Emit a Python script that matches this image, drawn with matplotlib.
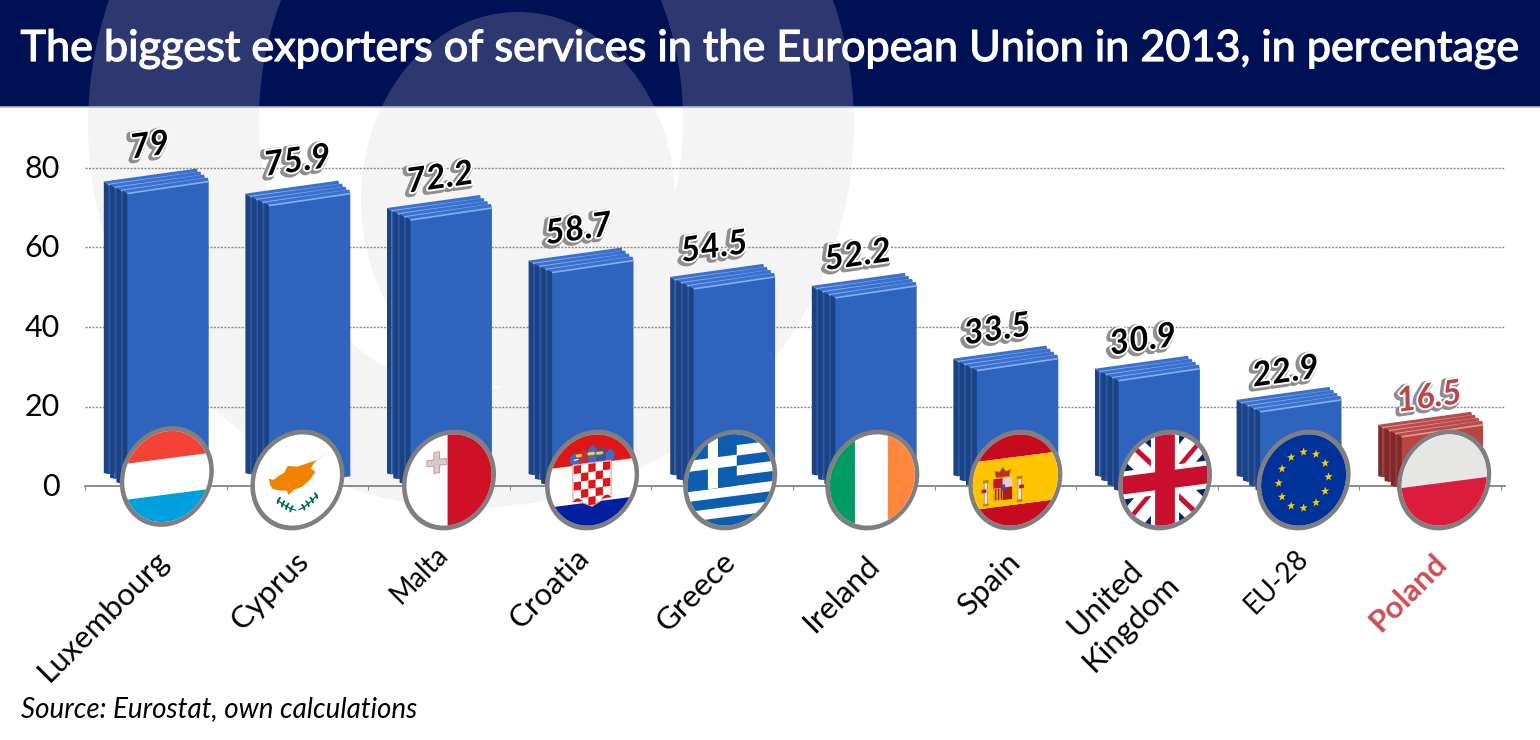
import numpy as np
import matplotlib
matplotlib.use("Agg")
import matplotlib.pyplot as plt
import matplotlib.patheffects as pe
from matplotlib.patches import Circle, Ellipse, Rectangle
from matplotlib.transforms import Affine2D

# ---------------- data ----------------
categories = ["Luxembourg", "Cyprus", "Malta", "Croatia", "Greece", "Ireland",
              "Spain", "United\nKingdom", "EU-28", "Poland"]
values = [79, 75.9, 72.2, 58.7, 54.5, 52.2, 33.5, 30.9, 22.9, 16.5]
value_labels = ["79", "75.9", "72.2", "58.7", "54.5", "52.2", "33.5", "30.9", "22.9", "16.5"]
y_ticks = [0, 20, 40, 60, 80]
flag_names = ["lu", "cy", "mt", "hr", "gr", "ie", "es", "uk", "eu", "pl"]
title = "The biggest exporters of services in the European Union in 2013, in percentage"
source = "Source: Eurostat, own calculations"

# ---------------- layout / style ----------------
W, H = 1540, 740
PX_X0, PX_X1, PX_Y0 = 85, 1505, 486
CW, SC = 141.6, 3.975          # px per category, px per value unit
YMAX = 92
NAVY, NAVY_L, PALE = "#001055", "#2E3870", "#F4F4F4"
BLUE = dict(face="#2E63BE", side="#1C4282", mid="#2A59A8", top="#3A70CE", hi="#86AEF0")
RED = dict(face="#B94444", side="#7C2A2A", mid="#A23A3A", top="#B84C4C", hi="#E59A9A")
FLAG_DX = [11, 0, 10, 11.5, 8, 8.5, 10, 18, 15, 14]
FLAG_DY = [3.5, 0, 0, 0, 0, 0, 0, 0, 0, 0]
LABEL_DX = [-6, 0, 1, -2, -8, -6, -8, -4, -3, -1]
LABEL_DY = [26, 23, 21, 23, 22, 23, 23, 23, 23, 23]
TICK_DX = [-2, -3, -4, -6, -1, 1, 1, -8, 6, 2]
TICK_DY = [0, 1, -4, -2, 1, 5, 1, -1, -1, 3]
RX, RY, SHEAR = 47.0, 50.0, 0.13

plt.rcParams["font.family"] = ["Lato", "DejaVu Sans"]
fig = plt.figure(figsize=(W / 100, H / 100), dpi=100, facecolor="white")

# ---------------- background logo and banner ----------------
bg = fig.add_axes([0, 0, 1, 1], zorder=0)
bg.set_xlim(0, W)
bg.set_ylim(H, 0)
bg.axis("off")
BANNER_H = 107


def logo(fill, hole, clip):
    a = Circle((471, 125), 383, fc=fill, ec="none")
    b = Ellipse((471, 120), 424, 540, fc=hole, ec="none")
    c = Ellipse((518, 200), 314, 376, fc=fill, ec="none")
    for p in (a, b, c):
        bg.add_patch(p)
        p.set_clip_path(clip)


low = Rectangle((0, BANNER_H), W, H - BANNER_H, fc="white", ec="none")
bg.add_patch(low)
logo(PALE, "white", low)
band = Rectangle((0, 0), W, BANNER_H, fc=NAVY, ec="none")
bg.add_patch(band)
logo(NAVY_L, NAVY, band)
bg.plot([0, W], [BANNER_H, BANNER_H], color="#AEB9D6", lw=1.2)

# regular weight thickened by a stroke: the reference's title is narrow for its height
title_text = fig.text(768 / W, 1 - 49 / H, title, color="white", fontsize=33, fontweight="normal",
                      ha="center", va="center")
measured = title_text.get_window_extent(fig.canvas.get_renderer()).width
title_text.set_fontsize(33 * 1500 / measured)
title_text.set_path_effects([pe.Stroke(linewidth=0.9, foreground="white"), pe.Normal()])
fig.text(21 / W, 1 - 709 / H, source, color="black", fontsize=20, style="italic",
         ha="left", va="center")

# ---------------- chart axes ----------------
ax = fig.add_axes([PX_X0 / W, 1 - PX_Y0 / H, (PX_X1 - PX_X0) / W, YMAX * SC / H], zorder=1)
ax.patch.set_alpha(0)
ax.set_xlim(-0.5, -0.5 + (PX_X1 - PX_X0) / CW)
ax.set_ylim(0, YMAX)
for s in ("top", "right", "left"):
    ax.spines[s].set_visible(False)
ax.spines["bottom"].set_color("#8C8C8C")
ax.spines["bottom"].set_linestyle((0, (1.5, 1)))
ax.spines["bottom"].set_linewidth(1.4)
ax.set_yticks(y_ticks)
ax.tick_params(axis="y", length=0, labelsize=22, pad=18)
for lab in ax.get_yticklabels():
    lab.set_transform(lab.get_transform() + Affine2D().translate(0, 1.5))
ax.yaxis.grid(True, color="#8C8C8C", lw=1, linestyle=(0, (1.5, 1)))
ax.set_axisbelow(True)
x = np.arange(len(categories))
ax.set_xticks(x, categories, rotation=45, ha="right", rotation_mode="anchor",
              fontsize=22.5, multialignment="center", linespacing=1.35)
ax.set_xticks(np.arange(-0.5, len(categories)), minor=True)
ax.tick_params(axis="x", which="major", length=0, pad=43)
ax.tick_params(axis="x", which="minor", length=3, color="#8C8C8C", width=0.8)
for n, (lab, name) in enumerate(zip(ax.get_xticklabels(), categories)):
    lab.set_transform(lab.get_transform() + Affine2D().translate(TICK_DX[n], -TICK_DY[n]))
    if name in ("Malta", "EU-28"):
        lab.set_fontsize(19.8)
    if name == "Poland":
        lab.set_color("#CF4F55")
        lab.set_fontweight("bold")


# ---------------- 3-D stacked slabs drawn from the values ----------------
def draw_bar(i, v, pal):
    top = 0.979 * v - 0.75
    base = 2.0 + 0.0126 * v
    for k in range(4):
        xl = -52 + 6.3 * k
        xr = xl + 93 - 2.67 * k
        ty, by = 3.0 * k, 4.7 * k
        zo = 3 + k * 0.1

        def P(dx, dy_down, ref):
            return (i + dx / CW, ref - dy_down / SC)
        side = [P(xl, ty, top), P(xl + 4.6, ty + 3, top), P(xl + 4.6, by, base), P(xl, by - 1, base)]
        face = [P(xl + 4.6, ty + 3, top), P(xr + 1, ty - 13 + 4, top), P(xr + 1, by - 12, base), P(xl + 4.6, by, base)]
        strip = [P(xl + 4.6, ty + 3, top), P(xl + 6.3, ty + 3, top), P(xl + 6.3, by, base), P(xl + 4.6, by, base)]
        tp = [P(xl, ty, top), P(xr, ty - 13, top), P(xr + 1, ty - 13 + 4, top), P(xl + 4.6, ty + 3, top)]
        for pts, col in ((face, pal["face"]), (strip, pal["mid"] if k < 3 else pal["face"]),
                         (side, pal["side"]), (tp, pal["top"])):
            ax.fill(*zip(*pts), fc=col, ec="none", zorder=zo, clip_on=False)
        ax.plot([tp[3][0], tp[2][0]], [tp[3][1], tp[2][1]], color=pal["hi"], lw=1.2,
                zorder=zo, solid_capstyle="butt", clip_on=False)


for i, v in enumerate(values):
    draw_bar(i, v, RED if categories[i] == "Poland" else BLUE)
    c = "#BE4448" if categories[i] == "Poland" else "black"
    t = ax.text(i + LABEL_DX[i] / CW, v + LABEL_DY[i] / SC, value_labels[i], ha="center", va="center",
                rotation=8, rotation_mode="anchor", fontsize=24.5, fontweight="bold", style="italic", color=c,
                zorder=6, clip_on=False)
    t.set_path_effects([
        pe.Stroke(linewidth=5.0, foreground="#8E8E8E", offset=(-1.6, -1.2)),
        pe.Stroke(linewidth=2.8, foreground="white"),
        pe.Normal()])


# ---------------- flags ----------------
def star(cx, cy, r, n=5):
    a = np.pi / 2 + np.arange(2 * n) * np.pi / n
    rr = np.where(np.arange(2 * n) % 2 == 0, r, r * 0.4)
    return list(zip(cx + rr * np.cos(a), cy + rr * np.sin(a)))


def make_flag(i, name):
    cx = i + FLAG_DX[i] / CW
    cy = (PX_Y0 - (480 - FLAG_DY[i])) / SC
    m = np.array([[RX / CW, 0, cx], [SHEAR * RX / SC, RY / SC, cy], [0, 0, 1]])
    tr = Affine2D(m) + ax.transData
    ring = Circle((0, 0), 1, fc="#7F7F7F", ec="none", transform=tr, zorder=5, clip_on=False)
    ax.add_patch(ring)
    inner = Circle((0, 0), 0.905, fc="white", ec="none", transform=tr, zorder=5.1, clip_on=False)
    ax.add_patch(inner)
    z = [5.2]

    def clip(a):
        a.set_clip_box(None)
        a.set_clip_path(inner)
        return a

    def poly(pts, color, ec="none", lw=0):
        z[0] += 0.001
        p = plt.Polygon(pts, closed=True, fc=color, ec=ec, lw=lw, transform=tr, zorder=z[0])
        ax.add_patch(p)
        return clip(p)

    def rect(u0, v0, u1, v1, color, **kw):
        return poly([(u0, v0), (u1, v0), (u1, v1), (u0, v1)], color, **kw)

    def line(us, vs, color, lw):
        z[0] += 0.001
        l, = ax.plot(us, vs, color=color, lw=lw, transform=tr, zorder=z[0], solid_capstyle="round")
        return clip(l)

    if name == "lu":
        rect(-2, .36, 2, 2, "#F44336")
        rect(-2, -2, 2, -.36, "#009FDF")
    elif name == "cy":
        zx = np.array([748, 715, 700, 680, 650, 622, 612, 595, 580, 565, 570, 578, 600, 618, 625, 640, 665, 690, 705, 692, 700])
        zy = np.array([148, 178, 183, 190, 200, 198, 218, 228, 240, 237, 258, 268, 272, 272, 285, 270, 260, 238, 215, 205, 190])
        u = (zx - 651) / 141
        vv = (240 - zy) / 150 - SHEAR * u
        poly(list(zip(u, vv)), "#F08400")
        for sgn in (-1, 1):
            us = sgn * np.array([.03, .14, .23, .32, .41])
            vs = np.array([-.60, -.56, -.50, -.44, -.36])
            line(us, vs, "#006B54", 0.9)
            for a, b in zip(us[1:], vs[1:]):
                line([a, a - sgn * .04], [b, b + .05], "#006B54", 1.4)
                line([a, a + sgn * .01], [b, b - .05], "#006B54", 1.4)
    elif name == "mt":
        rect(-.03, -2, 2, 2, "#CE1126")
        cu, cv = -.26, .38
        a, b = .21, .06
        pts = [(cu - b, cv + a), (cu + b, cv + a), (cu + b, cv + b), (cu + a, cv + b), (cu + a, cv - b),
               (cu + b, cv - b), (cu + b, cv - a), (cu - b, cv - a), (cu - b, cv - b), (cu - a, cv - b),
               (cu - a, cv + b), (cu - b, cv + b)]
        poly(pts, "#CFCFCF", ec="#E0808A", lw=0.6)
    elif name == "hr":
        rect(-2, .33, 2, 2, "#DF1616")
        rect(-2, -2, 2, -.44, "#00209F")
        n, cw, ch = 5, .155, .165
        u0, v0 = -.39, .33
        poly([(u0 - .02, v0 + .02), (u0 + n * cw + .02, v0 + .02), (u0 + n * cw + .02, v0 - 4 * ch),
              (.0, v0 - 5 * ch - .03), (u0 - .02, v0 - 4 * ch)], "white", ec="#F0A0A0", lw=0.8)
        for r in range(n):
            for c_ in range(n):
                if (r + c_) % 2 == 0:
                    if r < 4:
                        rr = [(u0 + c_ * cw, v0 - r * ch), (u0 + (c_ + 1) * cw, v0 - r * ch),
                              (u0 + (c_ + 1) * cw, v0 - (r + 1) * ch), (u0 + c_ * cw, v0 - (r + 1) * ch)]
                    else:
                        d = .05 * abs(c_ - 2)
                        rr = [(u0 + c_ * cw + d, v0 - r * ch), (u0 + (c_ + 1) * cw - d, v0 - r * ch),
                              (u0 + (c_ + 1) * cw - 2 * d, v0 - (r + 1) * ch + d),
                              (u0 + c_ * cw + 2 * d, v0 - (r + 1) * ch + d)]
                    poly(rr, "#DF1616")
        cols = ["#3B6CC8", "#B8324A", "#3B6CC8", "#2C5AA8", "#3B6CC8"]
        for j, col in enumerate(cols):
            ua = -.46 + j * .19
            h = [.14, .2, .25, .2, .14][j]
            poly([(ua, .36), (ua + .17, .36), (ua + .18, .36 + h), (ua + .085, .36 + h + .09), (ua - .01, .36 + h)], col)
        for ux, vy, col, r_ in [(-.28, .52, "#F5D21F", .035), (-.02, .53, "#F5D21F", .05), (.16, .52, "#F5D21F", .045)]:
            line([ux - r_, ux + r_], [vy, vy], col, 2.2)
        line([-.38, -.3], [.44, .45], "white", 0.9)
    elif name == "gr":
        b = "#0D5EAF"
        rows = [(.68, 2), (.27, .47), (-.13, .07), (-.53, -.33), (-2, -.73)]
        for v0, v1 in rows:
            rect(-2, v0, 2, v1, b)
        rect(-2, -.13, .14, 2, b)
        rect(-.475, -.13, -.26, 2, "white")
        rect(-2, .27, .14, .49, "white")
    elif name == "ie":
        rect(-2, -2, -.37, 2, "#009A63")
        rect(.33, -2, 2, 2, "#FF883E")
    elif name == "es":
        rect(-2, .46, 2, 2, "#C60B1E")
        rect(-2, -2, 2, -.49, "#C60B1E")
        rect(-2, -.49, 2, .46, "#FFC400")
        su, sv = -.27, -.13
        for d in (-.36, .36):
            rect(su + d - .035, sv - .28, su + d + .035, sv + .16, "#E8E8E8", ec="#8A5A2A", lw=.3)
            rect(su + d - .06, sv + .14, su + d + .06, sv + .20, "#B8860B")
            rect(su + d - .06, sv - .32, su + d + .06, sv - .27, "#B8860B")
            rect(su + d - .09 if d < 0 else su + d - .01, sv - .05, su + d + .01 if d < 0 else su + d + .09, sv + .02, "#C60B1E")
        rect(su - .2, sv + .01, su, sv + .2, "#C8102E")
        rect(su, sv + .01, su + .2, sv + .2, "#E8C9D8")
        rect(su - .2, sv - .24, su, sv + .01, "#D8A010")
        rect(su, sv - .24, su + .2, sv + .01, "#A8201E")
        for d in (-.16, -.10, -.04):
            rect(su + d, sv - .22, su + d + .025, sv, "#B01818")
        poly([(su - .03, sv - .04), (su + .05, sv - .04), (su + .05, sv + .07), (su - .03, sv + .07)], "#3050A0")
        poly([(su - .14, sv + .22), (su + .14, sv + .22), (su + .17, sv + .36), (su + .07, sv + .33),
              (su, sv + .42), (su - .07, sv + .33), (su - .17, sv + .36)], "#B8302A", ec="#C89018", lw=.6)
    elif name == "uk":
        n_, r_, w_ = "#012169", "#C8102E", "white"
        rect(-2, -2, 2, 2, n_)
        t = .19
        poly([(-1 - t, -1 + t), (-1 + t, -1 - t), (1 + t, 1 - t), (1 - t, 1 + t)], w_)
        poly([(-1 - t, 1 - t), (-1 + t, 1 + t), (1 + t, -1 + t), (1 - t, -1 - t)], w_)
        d = .14
        poly([(-1, 1), (-1 + d, 1), (d / 2, d / 2), (-d / 2, d / 2)], r_)
        poly([(1, 1), (1, 1 - d), (d / 2, -d / 2), (d / 2, d / 2)], r_)
        poly([(1, -1), (1 - d, -1), (-d / 2, -d / 2), (d / 2, -d / 2)], r_)
        poly([(-1, -1), (-1, -1 + d), (-d / 2, d / 2), (-d / 2, -d / 2)], r_)
        rect(-.30, -2, .30, 2, w_)
        rect(-2, -.28, 2, .28, w_)
        rect(-.21, -2, .21, 2, r_)
        rect(-2, -.18, 2, .18, r_)
    elif name == "eu":
        rect(-2, -2, 2, 2, "#003399")
        for a in np.arange(12) * np.pi / 6:
            poly(star(.53 * np.cos(a), .56 * np.sin(a), .09), "#FFCC00")
    elif name == "pl":
        rect(-2, -.05, 2, 2, "#E6E6E4")
        rect(-2, -2, 2, -.05, "#DC1C3C")


for i, name in enumerate(flag_names):
    make_flag(i, name)

fig.savefig("out.png", dpi=100)
